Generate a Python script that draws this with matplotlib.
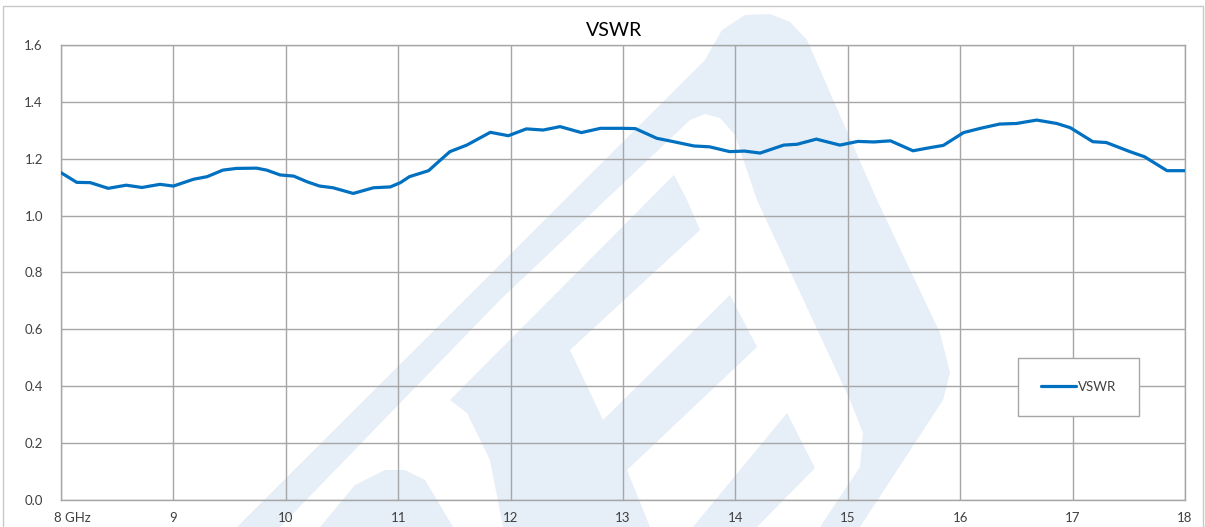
import matplotlib
matplotlib.use("Agg")
import matplotlib.pyplot as plt
from matplotlib.patches import Polygon, Rectangle
from matplotlib.transforms import offset_copy

plt.rcParams['font.family'] = ['Lato', 'DejaVu Sans']

# data
freq_ghz = [8.00, 8.14, 8.26, 8.42, 8.58, 8.72, 8.88, 9.00, 9.18, 9.30,
            9.44, 9.56, 9.74, 9.83, 9.95, 10.07, 10.19, 10.30, 10.42, 10.60,
            10.78, 10.93, 11.02, 11.10, 11.27, 11.36, 11.46, 11.61, 11.82, 11.98,
            12.14, 12.29, 12.44, 12.63, 12.80, 13.00, 13.11, 13.30, 13.45, 13.63,
            13.77, 13.95, 14.08, 14.22, 14.43, 14.55, 14.72, 14.93, 15.09, 15.23,
            15.38, 15.58, 15.73, 15.85, 16.03, 16.18, 16.35, 16.50, 16.68, 16.86,
            16.98, 17.18, 17.30, 17.51, 17.64, 17.84, 18.00]
vswr = [1.151, 1.117, 1.116, 1.096, 1.107, 1.099, 1.110, 1.104, 1.128, 1.137,
        1.160, 1.166, 1.167, 1.160, 1.143, 1.139, 1.119, 1.104, 1.098, 1.078,
        1.098, 1.101, 1.116, 1.137, 1.158, 1.190, 1.225, 1.248, 1.293, 1.281,
        1.305, 1.301, 1.313, 1.292, 1.307, 1.307, 1.306, 1.272, 1.260, 1.245,
        1.242, 1.225, 1.227, 1.220, 1.248, 1.251, 1.269, 1.248, 1.261, 1.259,
        1.263, 1.228, 1.239, 1.247, 1.292, 1.307, 1.322, 1.324, 1.336, 1.324,
        1.309, 1.260, 1.257, 1.225, 1.207, 1.158, 1.158]

x_ticks = list(range(8, 19))
x_labels = ['8 GHz'] + [str(v) for v in range(9, 19)]
y_ticks = [0.0, 0.2, 0.4, 0.6, 0.8, 1.0, 1.2, 1.4, 1.6]
y_labels = ['%.1f' % v for v in y_ticks]

W, H = 1205, 527
fig = plt.figure(figsize=(W / 100, H / 100), dpi=100)
fig.patch.set_facecolor('white')


def px(pts):
    return [(x / W, 1 - y / H) for x, y in pts]


# faint logo watermark behind the chart
wm = '#e6eef7'
outer = [(237, 527), (705, 60), (722, 30), (745, 15), (770, 14), (790, 22),
         (807, 40), (877, 200), (940, 333), (950, 373), (943, 400), (860, 527)]
hole = [(280, 527), (500, 300), (690, 120), (705, 114), (720, 118), (735, 135),
        (757, 200), (850, 400), (863, 433), (860, 467), (820, 527)]
inner_e = [(674, 175), (450, 400), (467, 413), (490, 460), (503, 527), (650, 527),
           (627, 470), (757, 347), (730, 295), (603, 420), (570, 350), (700, 230),
           (687, 200)]
lower_arm = [(787, 413), (815, 468), (757, 527), (693, 527)]
hump = [(320, 527), (355, 485), (385, 470), (405, 470), (425, 480), (453, 527)]
for pts, col in [(outer, wm), (hole, 'white'), (inner_e, wm), (lower_arm, wm), (hump, wm)]:
    fig.add_artist(Polygon(px(pts), closed=True, transform=fig.transFigure,
                           fc=col, ec='none', zorder=-5))

# outer chart border
fig.add_artist(Rectangle((3 / W, -0.01), 1200 / W, (H - 6) / H + 0.01,
                         transform=fig.transFigure, fc='none', ec='#c8c8c8',
                         lw=1.0, zorder=-4))

ax = fig.add_axes([61 / W, 1 - 500 / H, 1124 / W, 455 / H])
ax.set_facecolor('none')

ax.plot(freq_ghz, vswr, color='#0070c0', lw=2.3, solid_joinstyle='round',
        solid_capstyle='round', label='VSWR', zorder=3)

ax.set_xlim(8, 18)
ax.set_ylim(0, 1.6)
ax.set_xticks(x_ticks)
ax.set_xticklabels(x_labels)
ax.set_yticks(y_ticks)
ax.set_yticklabels(y_labels)
ax.tick_params(length=0, labelsize=9.5, labelcolor='#404040')
ax.tick_params(axis='y', pad=13)
ax.tick_params(axis='x', pad=9)
first = ax.get_xticklabels()[0]
first.set_transform(offset_copy(first.get_transform(), fig=fig, x=11, y=0, units='dots'))

ax.grid(True, color='#a6a6a6', lw=1.0)
ax.set_axisbelow(True)
for s in ax.spines.values():
    s.set_color('#a6a6a6')
    s.set_linewidth(1.0)

fig.text(614 / W, 1 - 31 / H, 'VSWR', ha='center', va='center',
         fontsize=14, color='#000000')

leg = ax.legend(loc='center', bbox_to_anchor=(1078.5 / W, 1 - 387 / H),
                bbox_transform=fig.transFigure, fontsize=9.5, frameon=True,
                fancybox=False, borderpad=1.75, handlelength=2.6,
                handletextpad=0.15, borderaxespad=0)
leg.get_frame().set_edgecolor('#a6a6a6')
leg.get_frame().set_linewidth(1.0)
leg.get_frame().set_alpha(1)
for t in leg.get_texts():
    t.set_color('#404040')

fig.savefig('out.png', dpi=100)
